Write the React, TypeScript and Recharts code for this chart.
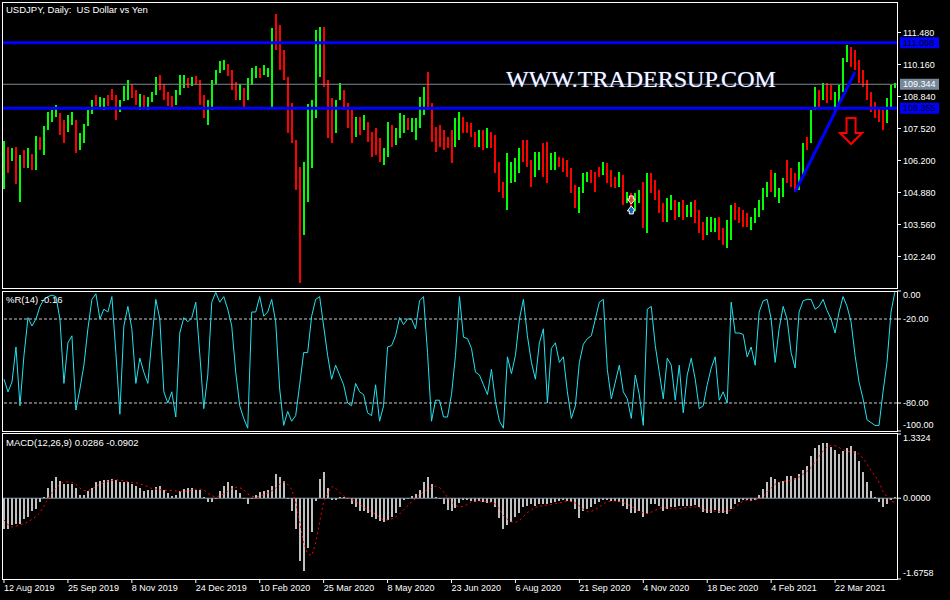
import React from "react";
import {
  ComposedChart,
  Bar,
  Line,
  XAxis,
  YAxis,
  Cell,
  ReferenceLine,
  ReferenceDot,
} from "recharts";

const FONT = "'Liberation Sans', Arial, sans-serif";
const WIDTH = 950;
const AXIS_W = 53;

// daily USDJPY bars (two sessions per slot)
const highs = [
  107.0, 106.76, 106.72, 106.76, 106.43, 106.63, 106.72, 106.47, 107.21, 107.17,
  107.62, 108.2, 108.28, 108.49, 108.16, 107.87, 108.08, 108.2, 107.87, 107.33,
  107.71, 108.28, 108.7, 108.9, 108.82, 108.78, 108.9, 109.15, 108.9, 108.7,
  109.27, 109.52, 109.36, 109.11, 108.94, 108.9, 108.82, 109.03, 109.64, 109.73,
  109.36, 109.03, 108.86, 109.11, 109.73, 109.73, 109.6, 109.64, 109.69, 109.52,
  108.9, 108.7, 109.52, 109.93, 110.3, 110.35, 110.18, 109.93, 109.44, 109.36,
  109.19, 109.6, 110.02, 110.1, 110.02, 110.14, 110.02, 111.67, 112.24, 111.79,
  110.76, 109.64, 108.57, 107.05, 105.93, 106.14, 108.53, 108.7, 111.58, 111.71,
  111.71, 109.52, 108.78, 108.7, 109.4, 109.11, 108.57, 108.28, 107.99, 107.99,
  108.08, 107.79, 107.38, 107.54, 107.13, 106.72, 107.79, 107.66, 107.54, 108.16,
  108.08, 107.95, 107.95, 107.95, 108.82, 109.23, 109.85, 108.57, 107.58, 107.66,
  107.46, 107.17, 107.46, 107.95, 108.2, 107.99, 107.79, 107.75, 107.38, 107.46,
  107.46, 107.54, 107.38, 107.25, 106.14, 105.31, 106.51, 106.14, 106.3, 106.72,
  107.05, 107.05, 106.22, 106.55, 106.55, 106.92, 106.96, 106.51, 106.55, 106.34,
  106.3, 106.22, 105.89, 105.19, 105.11, 105.68, 105.73, 105.81, 105.73, 105.93,
  106.14, 106.1, 105.81, 105.52, 105.73, 105.6, 104.9, 104.86, 104.86, 104.98,
  105.31, 105.68, 105.68, 105.4, 104.98, 104.45, 104.65, 104.78, 104.57, 104.49,
  104.57, 104.36, 104.49, 104.57, 104.16, 103.66, 103.87, 103.87, 103.83, 103.87,
  103.42, 103.75, 104.36, 104.45, 104.28, 104.16, 104.03, 103.87, 104.24, 104.57,
  105.07, 105.31, 105.81, 105.68, 105.07, 105.48, 106.22, 105.89, 105.68, 106.14,
  106.92, 107.17, 108.28, 109.23, 109.11, 109.4, 109.4, 109.31, 109.03, 109.31,
  110.43, 110.96, 110.88, 110.76, 110.35, 109.93, 109.52, 109.03, 108.61, 108.37,
  108.28, 108.78, 109.31, 109.4,
];

const lows = [
  105.02, 105.68, 106.18, 105.23, 104.49, 105.89, 105.89, 105.81, 105.81, 106.63,
  106.43, 107.46, 107.79, 107.99, 107.25, 106.92, 107.38, 107.66, 106.51, 106.63,
  106.92, 107.62, 108.12, 108.45, 108.37, 108.28, 108.45, 108.7, 107.87, 108.2,
  108.65, 108.7, 108.78, 108.49, 108.28, 108.37, 108.28, 108.61, 108.9, 109.11,
  108.7, 108.45, 108.37, 108.49, 108.9, 109.19, 109.19, 109.27, 109.31, 108.49,
  107.95, 107.66, 108.28, 109.36, 109.81, 109.93, 109.69, 109.11, 108.7, 108.7,
  108.37, 108.7, 109.31, 109.6, 109.6, 109.73, 109.64, 108.37, 110.76, 109.93,
  109.52, 107.33, 106.92, 104.98, 101.15, 103.13, 104.49, 105.89, 107.95, 109.64,
  109.23, 107.13, 106.92, 107.33, 108.7, 108.28, 107.54, 106.92, 107.17, 107.25,
  107.46, 106.96, 106.34, 106.43, 106.14, 106.01, 106.34, 106.76, 106.84, 107.13,
  107.33, 107.46, 107.38, 107.05, 107.54, 108.08, 108.28, 106.96, 106.55, 106.76,
  106.63, 106.72, 106.1, 106.76, 107.05, 107.33, 107.33, 107.17, 106.76, 106.76,
  106.63, 106.72, 106.72, 105.68, 104.9, 104.65, 104.16, 105.27, 105.31, 105.68,
  106.14, 105.93, 105.11, 105.52, 105.81, 105.52, 105.27, 105.81, 105.81, 105.93,
  105.73, 105.52, 104.86, 104.24, 104.03, 104.86, 105.31, 105.27, 104.9, 105.52,
  105.6, 105.27, 105.11, 105.07, 105.11, 104.36, 104.45, 104.28, 104.16, 104.45,
  103.42, 103.21, 104.86, 104.57, 104.03, 103.66, 103.66, 104.16, 103.75, 103.87,
  103.75, 103.87, 103.87, 103.62, 103.21, 102.92, 103.13, 103.25, 103.25, 102.92,
  102.71, 102.59, 102.92, 103.75, 103.62, 103.46, 103.46, 103.33, 103.62, 103.87,
  104.16, 104.69, 104.9, 104.69, 104.45, 104.69, 105.27, 105.11, 104.9, 104.98,
  105.6, 106.63, 106.92, 108.28, 108.41, 108.7, 108.57, 108.7, 108.28, 108.57,
  109.03, 110.26, 110.06, 109.93, 109.4, 109.23, 108.7, 108.2, 107.95, 107.79,
  107.46, 107.75, 108.41, 109.19,
];

// G = bullish bar, R = bearish bar
const candleDir = (
  "GRGRGRGRGR" + "GGGGRRGGRG" + "GGGRGGRRRG" + "GGRRGRGGGR" + "RRRGGGRGRR" +
  "RGGGGGRRRG" + "RGGGRGGGRR" + "RRRRRGGGGG" + "RRRGGRRRGR" + "GRRRRGGRGG" +
  "GRGGGGRRRR" + "RRRGGRRRRG" + "RGRRRRGGGG" + "RRRGGRRGGR" + "RRRRGGGRRR" +
  "GRRRGRGRGG" + "RGRRRRGGRG" + "RGGRRRGGGR" + "RGGRRRRGGG" + "GGRGGGRRRG" +
  "GRGGRGRRGG" + "GGRRRRRRRR" + "RGGG"
).split("");

const wpr = [
  -63, -72, -65, -40, -82, -46, -19, -25, -20, -11,
  -6, -4, -3, -4, -20, -66, -37, -32, -85, -70,
  -53, -27, -6, -2, -20, -13, -15, -4, -44, -88,
  -25, -11, -27, -66, -48, -58, -66, -35, -6, -20,
  -72, -80, -72, -90, -30, -19, -22, -19, -8, -45,
  -84, -60, -8, -1, -8, -4, -13, -25, -58, -82,
  -91, -98, -15, -15, -4, -18, -15, -6, -22, -70,
  -96, -86, -93, -89, -67, -44, -44, -18, -6, -4,
  -25, -46, -63, -53, -60, -67, -80, -82, -66, -72,
  -74, -87, -89, -67, -93, -82, -40, -39, -32, -19,
  -24, -20, -20, -27, -7, -4, -44, -93, -78, -78,
  -90, -90, -74, -46, -4, -33, -34, -41, -58, -60,
  -67, -74, -56, -79, -93, -98, -47, -59, -46, -20,
  -6, -32, -51, -63, -37, -27, -80, -41, -37, -51,
  -47, -72, -91, -82, -51, -38, -34, -32, -20, -8,
  -6, -56, -77, -65, -53, -72, -77, -91, -60, -74,
  -96, -13, -11, -39, -58, -77, -48, -53, -78, -53,
  -87, -60, -48, -63, -84, -82, -67, -55, -47, -78,
  -72, -80, -8, -30, -30, -31, -47, -40, -53, -15,
  -7, -6, -20, -51, -27, -11, -20, -44, -55, -15,
  -7, -6, -6, -13, -11, -6, -14, -20, -30, -15,
  -4, -11, -22, -46, -65, -77, -92, -94, -96, -96,
  -72, -51, -15, -0.16,
];

const macdHist = [
  -0.64, -0.64, -0.56, -0.53, -0.53, -0.43, -0.38, -0.27, -0.23, -0.08,
  0.03, 0.21, 0.36, 0.44, 0.36, 0.29, 0.3, 0.3, 0.21, 0.07,
  0.07, 0.14, 0.21, 0.33, 0.36, 0.38, 0.38, 0.4, 0.38, 0.33,
  0.33, 0.33, 0.29, 0.25, 0.21, 0.14, 0.18, 0.18, 0.24, 0.25,
  0.18, 0.1, 0.04, 0.07, 0.14, 0.19, 0.21, 0.21, 0.18, 0.18,
  0.03, -0.08, -0.08, -0.01, 0.14, 0.25, 0.33, 0.25, 0.18, 0.1,
  -0.01, -0.12, -0.01, 0.07, 0.12, 0.16, 0.18, 0.25, 0.51, 0.44,
  0.36, -0.01, -0.27, -0.64, -1.3, -1.52, -1.04, -0.71, -0.05, 0.4,
  0.55, 0.21, -0.04, -0.04, 0.03, 0.03, -0.01, -0.12, -0.19, -0.27,
  -0.27, -0.3, -0.38, -0.43, -0.47, -0.5, -0.45, -0.38, -0.3, -0.19,
  -0.04, -0.01, 0.04, 0.09, 0.18, 0.33, 0.44, 0.29, 0.03, -0.01,
  -0.12, -0.25, -0.27, -0.21, -0.1, -0.04, -0.03, -0.06, -0.08, -0.06,
  -0.08, -0.1, -0.08, -0.19, -0.41, -0.64, -0.56, -0.49, -0.38, -0.3,
  -0.19, -0.16, -0.13, -0.16, -0.13, -0.12, -0.12, -0.1, -0.08, -0.06,
  -0.04, -0.06, -0.08, -0.23, -0.4, -0.27, -0.23, -0.18, -0.13, -0.08,
  -0.03, -0.04, -0.06, -0.06, -0.08, -0.16, -0.23, -0.3, -0.3, -0.27,
  -0.38, -0.33, -0.13, -0.13, -0.16, -0.27, -0.23, -0.19, -0.18, -0.16,
  -0.16, -0.17, -0.16, -0.15, -0.19, -0.28, -0.3, -0.3, -0.25, -0.3,
  -0.3, -0.33, -0.23, -0.13, -0.08, -0.04, -0.04, -0.06, -0.04, 0.07,
  0.19, 0.33, 0.44, 0.4, 0.33, 0.36, 0.46, 0.47, 0.41, 0.51,
  0.58, 0.66, 0.88, 1.05, 1.1, 1.15, 1.14, 1.07, 1.01, 0.92,
  0.98, 1.05, 1.08, 0.99, 0.77, 0.55, 0.33, 0.16, 0.03, -0.08,
  -0.19, -0.13, -0.04, 0.03,
];

const macdSignal = [
  -0.45, -0.55, -0.6, -0.58, -0.55, -0.53, -0.49, -0.44, -0.38, -0.3,
  -0.16, -0.01, 0.12, 0.21, 0.29, 0.34, 0.34, 0.33, 0.29, 0.21,
  0.16, 0.16, 0.19, 0.25, 0.29, 0.33, 0.35, 0.37, 0.38, 0.38,
  0.36, 0.34, 0.33, 0.32, 0.3, 0.27, 0.24, 0.2, 0.19, 0.18,
  0.17, 0.16, 0.16, 0.15, 0.14, 0.14, 0.15, 0.17, 0.19, 0.19,
  0.17, 0.11, 0.05, 0.03, 0.05, 0.09, 0.14, 0.19, 0.23, 0.22,
  0.18, 0.09, 0.04, 0.03, 0.04, 0.07, 0.11, 0.15, 0.21, 0.29,
  0.34, 0.29, 0.18, -0.08, -0.49, -0.93, -1.15, -1.19, -0.93, -0.49,
  -0.08, 0.1, 0.24, 0.21, 0.12, 0.05, 0.01, -0.03, -0.07, -0.12,
  -0.18, -0.24, -0.28, -0.33, -0.4, -0.45, -0.45, -0.43, -0.39, -0.33,
  -0.24, -0.16, -0.08, -0.01, 0.07, 0.13, 0.18, 0.22, 0.25, 0.22,
  0.14, 0.01, -0.08, -0.15, -0.18, -0.17, -0.13, -0.07, -0.06, -0.06,
  -0.06, -0.07, -0.09, -0.12, -0.23, -0.36, -0.44, -0.49, -0.5, -0.46,
  -0.38, -0.3, -0.24, -0.19, -0.16, -0.16, -0.14, -0.13, -0.11, -0.1,
  -0.07, -0.06, -0.07, -0.1, -0.16, -0.23, -0.28, -0.27, -0.24, -0.18,
  -0.12, -0.07, -0.06, -0.06, -0.07, -0.09, -0.12, -0.17, -0.22, -0.27,
  -0.3, -0.32, -0.29, -0.25, -0.21, -0.19, -0.2, -0.21, -0.22, -0.22,
  -0.2, -0.19, -0.19, -0.18, -0.19, -0.23, -0.25, -0.27, -0.27, -0.28,
  -0.28, -0.27, -0.25, -0.19, -0.12, -0.06, -0.04, -0.04, -0.04, -0.01,
  0.04, 0.12, 0.21, 0.29, 0.33, 0.35, 0.36, 0.38, 0.4, 0.44,
  0.5, 0.56, 0.64, 0.75, 0.86, 0.98, 1.06, 1.1, 1.09, 1.05,
  1.01, 0.97, 0.96, 0.96, 0.92, 0.83, 0.71, 0.58, 0.47, 0.33,
  0.14, 0.03, -0.06, -0.09,
];

const tickIndex = [0, 16, 32, 48, 64, 80, 96, 112, 128, 144, 160, 176, 192, 208];
const tickLabels = [
  "12 Aug 2019", "25 Sep 2019", "8 Nov 2019", "24 Dec 2019", "10 Feb 2020",
  "25 Mar 2020", "8 May 2020", "23 Jun 2020", "6 Aug 2020", "21 Sep 2020",
  "4 Nov 2020", "18 Dec 2020", "4 Feb 2021", "22 Mar 2021",
];

const priceTicks = [111.48, 110.16, 108.84, 107.52, 106.2, 104.88, 103.56, 102.24];
const priceDomain = [100.981, 112.696];
const wprTicks = [0, -20, -80, -100];
const macdTicks = [1.3324, 0, -1.6758];

const upperLevel = 111.058;
const lastPrice = 109.344;
const lowerLevel = 108.355;
const trendStart = { x: 198, y: 104.9 };
const trendEnd = { x: 213, y: 109.85 };
const sellArrow = { x: 212, y: 107.95 };
const signalMarks = { x: 157, down: 104.57, up: 104.16 };

const priceData = highs.map((h, i) => ({ i, range: [lows[i], h], up: candleDir[i] === "G" }));
const wprData = wpr.map((v, i) => ({ i, v }));
const macdData = macdHist.map((h, i) => ({ i, hist: h, signal: macdSignal[i] }));

const PriceTick = (p: any) => (
  <text x={p.x} y={p.y} dy="0.35em" fill="#fff" fontSize={9} fontFamily={FONT}>
    {Number(p.payload.value).toFixed(3)}
  </text>
);

const edgeTick = (top: number, bottom: number, digits: number) => (p: any) => {
  const v = Number(p.payload.value);
  const shift = v === top ? 4 : v === bottom ? -6 : 0;
  return (
    <text x={p.x} y={p.y + shift} dy="0.35em" fill="#fff" fontSize={9} fontFamily={FONT}>
      {v.toFixed(digits)}
    </text>
  );
};

const DateTick = (p: any) => {
  const at = tickIndex.indexOf(Number(p.payload.value));
  if (at < 0) return <g />;
  return (
    <g>
      <line x1={p.x} x2={p.x} y1={p.y} y2={p.y + 4} stroke="#fff" />
      <text x={p.x} y={p.y + 6} dy="0.71em" fill="#fff" fontSize={9} fontFamily={FONT}>
        {tickLabels[at]}
      </text>
    </g>
  );
};

const PriceTag = (p: any) => {
  const vb = p.viewBox || {};
  const x = vb.x + vb.width;
  return (
    <g>
      <rect x={x + 3} y={vb.y - 5.5} width={39} height={11} fill={p.bg} />
      <text x={x + 6} y={vb.y} dy="0.35em" fill={p.fg} fontSize={9} fontFamily={FONT}>
        {p.text}
      </text>
    </g>
  );
};

const SellArrow = (p: any) => {
  const { cx, cy } = p;
  const pts = [
    [cx - 4.5, cy], [cx + 4.5, cy], [cx + 4.5, cy + 15], [cx + 11, cy + 15],
    [cx, cy + 26], [cx - 11, cy + 15], [cx - 4.5, cy + 15],
  ].map((q) => q.join(",")).join(" ");
  return <polygon points={pts} fill="none" stroke="#ff0000" strokeWidth={2} />;
};

const SmallArrow = (p: any) => {
  const { cx, cy, dir, color } = p;
  const s = dir === "down" ? 1 : -1;
  const pts = [
    [cx - 2, cy - 4 * s], [cx + 2, cy - 4 * s], [cx + 2, cy - 1 * s], [cx + 4, cy - 1 * s],
    [cx, cy + 4 * s], [cx - 4, cy - 1 * s], [cx - 2, cy - 1 * s],
  ].map((q) => q.join(",")).join(" ");
  return <polygon points={pts} fill={color} stroke="#fff" strokeWidth={1} />;
};

const frame = (top: number, height: number): React.CSSProperties => ({
  position: "absolute",
  left: 2,
  top,
  width: 896,
  height,
  border: "1px solid #fff",
  boxSizing: "border-box",
  pointerEvents: "none",
});

const caption: React.CSSProperties = {
  position: "absolute",
  left: 6,
  color: "#fff",
  fontFamily: FONT,
  fontSize: 9.5,
  lineHeight: "11px",
  whiteSpace: "pre",
};

export default function App() {
  return (
    <div style={{ position: "absolute", left: 0, top: 0, width: WIDTH, height: 600, background: "#000", overflow: "hidden" }}>
      <div style={{ position: "absolute", left: 0, top: 0 }}>
        <ComposedChart width={WIDTH} height={290} data={priceData} margin={{ top: 3, right: 0, bottom: 3, left: 2 }}>
          <XAxis dataKey="i" type="category" scale="band" hide />
          <YAxis
            orientation="right"
            width={AXIS_W}
            type="number"
            domain={priceDomain}
            allowDataOverflow
            ticks={priceTicks}
            interval={0}
            tickSize={4}
            tickMargin={2}
            tickLine={{ stroke: "#fff" }}
            axisLine={false}
            tick={PriceTick}
          />
          <Bar dataKey="range" barSize={2} shapeRendering="crispEdges" isAnimationActive={false}>
            {priceData.map((d) => (
              <Cell key={d.i} fill={d.up ? "#00ff00" : "#ff0000"} />
            ))}
          </Bar>
          <ReferenceLine y={upperLevel} stroke="#0000ff" strokeWidth={3} label={<PriceTag bg="#0000ff" fg="#000" text="111.058" />} />
          <ReferenceLine y={lastPrice} stroke="#7f8b96" strokeWidth={1} label={<PriceTag bg="#778899" fg="#fff" text="109.344" />} />
          <ReferenceLine y={lowerLevel} stroke="#0000ff" strokeWidth={3} label={<PriceTag bg="#0000ff" fg="#000" text="108.355" />} />
          <ReferenceLine segment={[trendStart, trendEnd]} stroke="#0000ff" strokeWidth={3} />
          <ReferenceDot x={sellArrow.x} y={sellArrow.y} r={0} shape={SellArrow} />
          <ReferenceDot x={signalMarks.x} y={signalMarks.down} r={0} shape={(p: any) => <SmallArrow {...p} dir="down" color="#e04020" />} />
          <ReferenceDot x={signalMarks.x} y={signalMarks.up} r={0} shape={(p: any) => <SmallArrow {...p} dir="up" color="#1060c0" />} />
        </ComposedChart>
      </div>

      <div style={{ position: "absolute", left: 0, top: 288 }}>
        <ComposedChart width={WIDTH} height={146} data={wprData} margin={{ top: 3, right: 0, bottom: 3, left: 2 }}>
          <XAxis dataKey="i" type="category" scale="band" hide />
          <YAxis
            orientation="right"
            width={AXIS_W}
            type="number"
            domain={[-100, 0]}
            allowDataOverflow
            ticks={wprTicks}
            interval={0}
            tickSize={4}
            tickMargin={2}
            tickLine={{ stroke: "#fff" }}
            axisLine={false}
            tick={edgeTick(0, -100, 2)}
          />
          <ReferenceLine y={-20} stroke="#c8c8c8" strokeDasharray="3 2" />
          <ReferenceLine y={-80} stroke="#c8c8c8" strokeDasharray="3 2" />
          <Line dataKey="v" type="linear" stroke="#22e3f0" strokeWidth={1} dot={false} activeDot={false} isAnimationActive={false} />
        </ComposedChart>
      </div>

      <div style={{ position: "absolute", left: 0, top: 432 }}>
        <ComposedChart width={WIDTH} height={168} data={macdData} margin={{ top: 2, right: 0, bottom: 0, left: 2 }}>
          <XAxis
            dataKey="i"
            type="category"
            scale="band"
            height={21}
            interval={0}
            tickSize={0}
            tickMargin={0}
            tickLine={false}
            axisLine={false}
            tick={DateTick}
          />
          <YAxis
            orientation="right"
            width={AXIS_W}
            type="number"
            domain={[-1.6758, 1.3324]}
            allowDataOverflow
            ticks={macdTicks}
            interval={0}
            tickSize={4}
            tickMargin={2}
            tickLine={{ stroke: "#fff" }}
            axisLine={false}
            tick={edgeTick(1.3324, -1.6758, 4)}
          />
          <ReferenceLine y={0} stroke="#8899aa" />
          <Bar dataKey="hist" fill="#c0c0c0" barSize={2} shapeRendering="crispEdges" isAnimationActive={false} />
          <Line dataKey="signal" type="linear" stroke="#ff0000" strokeWidth={1} strokeDasharray="2 3" dot={false} activeDot={false} isAnimationActive={false} />
        </ComposedChart>
      </div>

      <div style={frame(2, 287)} />
      <div style={frame(291, 141)} />
      <div style={frame(433, 147)} />

      <div style={{ ...caption, top: 4 }}>USDJPY, Daily:  US Dollar vs Yen</div>
      <div style={{ ...caption, top: 294 }}>%R(14) -0.16</div>
      <div style={{ ...caption, top: 437 }}>MACD(12,26,9) 0.0286 -0.0902</div>
      <div
        style={{
          position: "absolute",
          left: 506,
          top: 67,
          fontFamily: "'Liberation Serif', 'Times New Roman', serif",
          fontSize: 24,
          lineHeight: "24px",
          color: "#f8f8ff",
          textShadow: "0 0 1px #6a8cff",
          whiteSpace: "pre",
        }}
      >
        WWW.TRADERSUP.COM
      </div>
    </div>
  );
}
